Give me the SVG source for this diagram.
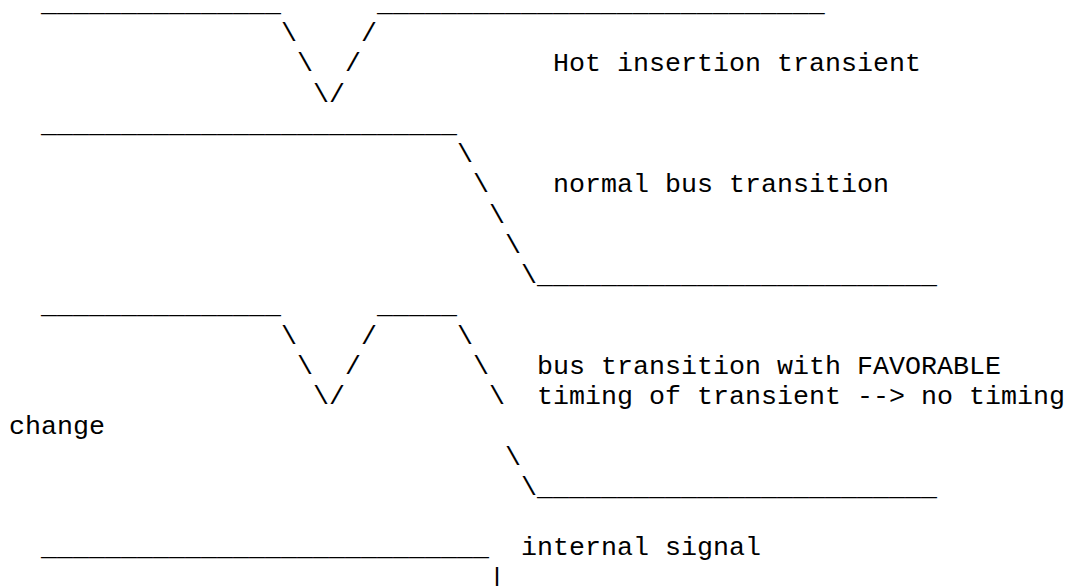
<svg xmlns="http://www.w3.org/2000/svg" width="1070" height="586" viewBox="0 0 1070 586">
  <style>
    /* monospace character grid: 16px per column, 30.25px per row */
    .t { font-family: "Liberation Mono", "Courier New", "DejaVu Sans Mono", monospace; font-size: 26.667px; fill: #000; white-space: pre; }
  </style>
  <rect width="1070" height="586" fill="#fff"/>

  <!-- hot insertion transient: glitch dipping low and recovering -->
  <g id="hot-insertion" xml:space="preserve">
    <text class="t" x="41" y="10.8">_______________      ____________________________</text>
    <text class="t" x="281" y="41.05">\    /</text>
    <text class="t" x="297" y="71.3">\  /</text>
    <text class="t" x="313" y="101.55">\/</text>
    <text class="t" x="553" y="71.3">Hot insertion transient</text>
  </g>

  <!-- normal bus transition: slow falling edge -->
  <g id="normal-transition" xml:space="preserve">
    <text class="t" x="41" y="131.8">__________________________</text>
    <text class="t" x="457" y="162.05">\</text>
    <text class="t" x="473" y="192.3">\</text>
    <text class="t" x="489" y="222.55">\</text>
    <text class="t" x="505" y="252.8">\</text>
    <text class="t" x="521" y="283.05">\_________________________</text>
    <text class="t" x="553" y="192.3">normal bus transition</text>
  </g>

  <!-- transient ahead of the falling edge -->
  <g id="favorable-transition" xml:space="preserve">
    <text class="t" x="41" y="313.3">_______________      _____</text>
    <text class="t" x="281" y="343.55">\    /     \</text>
    <text class="t" x="297" y="373.8">\  /       \</text>
    <text class="t" x="313" y="404.05">\/         \</text>
    <text class="t" x="505" y="464.55">\</text>
    <text class="t" x="521" y="494.8">\_________________________</text>
    <text class="t" x="537" y="373.8">bus transition with FAVORABLE</text>
    <text class="t" x="537" y="404.05">timing of transient --&gt; no timing</text>
    <text class="t" x="9" y="434.3">change</text>
  </g>

  <!-- internal signal -->
  <g id="internal-signal" xml:space="preserve">
    <text class="t" x="41" y="555.3">____________________________</text>
    <text class="t" x="489" y="585.55">|</text>
    <text class="t" x="521" y="555.3">internal signal</text>
  </g>
</svg>
